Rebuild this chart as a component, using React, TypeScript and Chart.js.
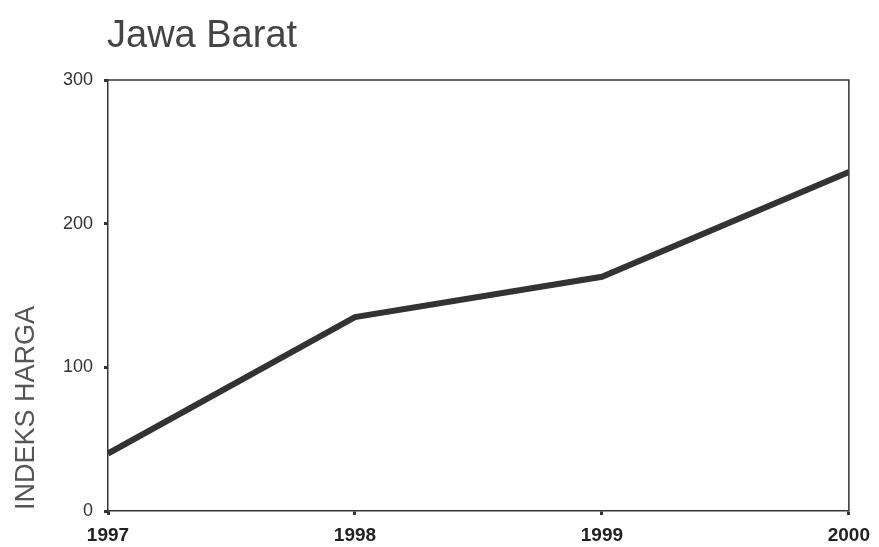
import React, { useEffect, useRef } from "react";
import { Chart, registerables } from "chart.js";

Chart.register(...registerables);

const years = [1997, 1998, 1999, 2000];
const indeksHarga = [40, 135, 163, 236];
const yTicks = [0, 100, 200, 300];
const chartTitle = "Jawa Barat";
const yTitle = "INDEKS HARGA";

const FONT = "'Liberation Sans', Arial, Helvetica, sans-serif";

const decorPlugin = {
  id: "decor",
  afterDraw(chart: any) {
    const { ctx, chartArea } = chart;
    ctx.save();
    // top & right frame
    ctx.strokeStyle = "#333";
    ctx.lineWidth = 1.5;
    ctx.beginPath();
    ctx.moveTo(chartArea.left, chartArea.top);
    ctx.lineTo(chartArea.right, chartArea.top);
    ctx.lineTo(chartArea.right, chartArea.bottom);
    ctx.stroke();
    // title
    ctx.fillStyle = "#444";
    ctx.font = `38px ${FONT}`;
    ctx.textAlign = "left";
    ctx.textBaseline = "alphabetic";
    ctx.fillText(chartTitle, 107, 47);
    // y axis title
    ctx.fillStyle = "#555";
    ctx.font = `27px ${FONT}`;
    ctx.translate(27, 408);
    ctx.rotate(-Math.PI / 2);
    ctx.textAlign = "center";
    ctx.textBaseline = "middle";
    ctx.fillText(yTitle, 0, 0);
    ctx.restore();
  },
};

export default function App() {
  const ref = useRef<HTMLCanvasElement>(null);

  useEffect(() => {
    const canvas = ref.current;
    if (!canvas) return;
    const chart = new Chart(canvas, {
      type: "line",
      data: {
        datasets: [
          {
            data: years.map((x, i) => ({ x, y: indeksHarga[i] })),
            borderColor: "#333",
            borderWidth: 6,
            pointRadius: 0,
            tension: 0,
            fill: false,
          },
        ],
      },
      options: {
        responsive: false,
        animation: false,
        layout: { padding: { top: 80, left: 0, right: 29, bottom: 0 } },
        plugins: {
          legend: { display: false },
          title: { display: false },
          tooltip: { enabled: false },
        },
        scales: {
          x: {
            type: "linear",
            min: years[0],
            max: years[years.length - 1],
            afterBuildTicks: (scale: any) => {
              scale.ticks = years.map((v) => ({ value: v }));
            },
            afterFit: (scale: any) => {
              scale.height = 36;
            },
            ticks: {
              callback: (v: any) => String(v),
              font: { family: FONT, size: 19, weight: "bold" },
              color: "#222",
              padding: 9,
              maxRotation: 0,
            },
            grid: {
              display: true,
              drawOnChartArea: false,
              drawTicks: true,
              tickLength: 4,
              tickWidth: 3,
              tickColor: "#333",
            },
            border: { display: true, color: "#333", width: 1.5 },
          },
          y: {
            type: "linear",
            min: yTicks[0],
            max: yTicks[yTicks.length - 1],
            afterBuildTicks: (scale: any) => {
              scale.ticks = yTicks.map((v) => ({ value: v }));
            },
            afterFit: (scale: any) => {
              scale.width = 108;
            },
            ticks: {
              callback: (v: any) => String(v),
              font: { family: FONT, size: 18 },
              color: "#333",
              padding: 11,
            },
            grid: {
              display: true,
              drawOnChartArea: false,
              drawTicks: true,
              tickLength: 4,
              tickWidth: 3,
              tickColor: "#333",
            },
            border: { display: true, color: "#333", width: 1.5 },
          },
        },
      },
      plugins: [decorPlugin],
    });
    return () => chart.destroy();
  }, []);

  return (
    <div style={{ position: "fixed", left: 0, top: 0, width: 879, height: 547, background: "#fff" }}>
      <canvas ref={ref} width={879} height={547} style={{ display: "block" }} />
    </div>
  );
}
